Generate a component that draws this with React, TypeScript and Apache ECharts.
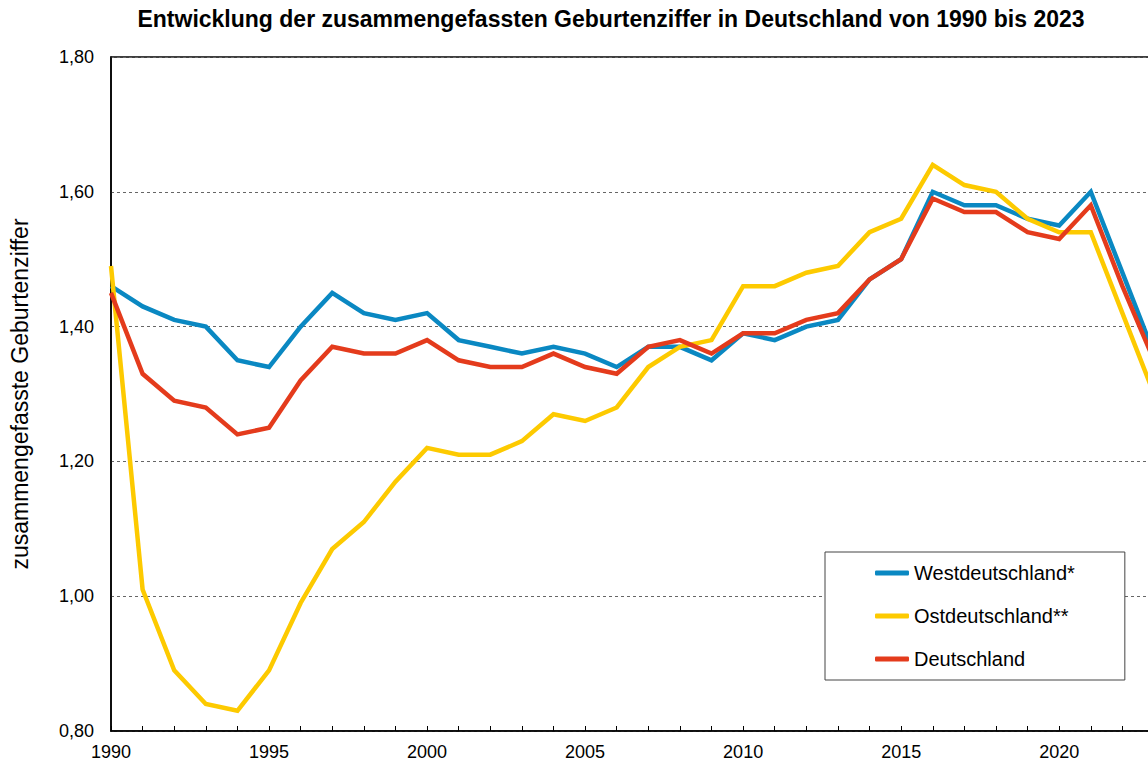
import React, { useEffect, useRef } from "react";
import * as echarts from "echarts";

const years = [
  "1990", "1991", "1992", "1993", "1994", "1995", "1996", "1997", "1998", "1999",
  "2000", "2001", "2002", "2003", "2004", "2005", "2006", "2007", "2008", "2009",
  "2010", "2011", "2012", "2013", "2014", "2015", "2016", "2017", "2018", "2019",
  "2020", "2021", "2022", "2023",
];

const west = [
  1.46, 1.43, 1.41, 1.40, 1.35, 1.34, 1.40, 1.45, 1.42, 1.41,
  1.42, 1.38, 1.37, 1.36, 1.37, 1.36, 1.34, 1.37, 1.37, 1.35,
  1.39, 1.38, 1.40, 1.41, 1.47, 1.50, 1.60, 1.58, 1.58, 1.56,
  1.55, 1.60, 1.48, 1.36,
];

const ost = [
  1.49, 1.01, 0.89, 0.84, 0.83, 0.89, 0.99, 1.07, 1.11, 1.17,
  1.22, 1.21, 1.21, 1.23, 1.27, 1.26, 1.28, 1.34, 1.37, 1.38,
  1.46, 1.46, 1.48, 1.49, 1.54, 1.56, 1.64, 1.61, 1.60, 1.56,
  1.54, 1.54, 1.42, 1.30,
];

const deutschland = [
  1.45, 1.33, 1.29, 1.28, 1.24, 1.25, 1.32, 1.37, 1.36, 1.36,
  1.38, 1.35, 1.34, 1.34, 1.36, 1.34, 1.33, 1.37, 1.38, 1.36,
  1.39, 1.39, 1.41, 1.42, 1.47, 1.50, 1.59, 1.57, 1.57, 1.54,
  1.53, 1.58, 1.46, 1.35,
];

const seriesNames = ["Westdeutschland*", "Ostdeutschland**", "Deutschland"];
const seriesColors = ["#0a88c2", "#fdca00", "#e43b1c"];
const titleText = "Entwicklung der zusammengefassten Geburtenziffer in Deutschland von 1990 bis 2023";
const yAxisTitle = "zusammengefasste Geburtenziffer";

const FONT = "'Liberation Sans', Arial, sans-serif";

export default function App() {
  const ref = useRef<HTMLDivElement>(null);

  useEffect(() => {
    if (!ref.current) return;
    const chart = echarts.init(ref.current, null, { renderer: "svg" });
    const data = [west, ost, deutschland];
    chart.setOption({
      animation: false,
      backgroundColor: "#ffffff",
      textStyle: { fontFamily: FONT },
      graphic: [
        {
          type: "text",
          x: 611,
          y: 19,
          style: {
            text: titleText,
            fontFamily: FONT,
            fontWeight: "bold",
            fontSize: 23,
            fill: "#000",
            textAlign: "center",
            textVerticalAlign: "middle",
          },
        },
      ],
      grid: {
        left: 108,
        top: 57,
        width: 1046,
        height: 674,
        show: true,
        borderColor: "#000",
        borderWidth: 1.5,
        backgroundColor: "transparent",
      },
      xAxis: {
        type: "category",
        data: years,
        boundaryGap: false,
        axisLine: { show: true, lineStyle: { color: "#000", width: 1.5 } },
        axisTick: {
          show: true,
          inside: true,
          length: 5,
          interval: 0,
          lineStyle: { color: "#000", width: 1 },
        },
        axisLabel: {
          interval: (i: number) => i % 5 === 0,
          color: "#000",
          fontSize: 18,
          fontFamily: FONT,
          margin: 12,
        },
        splitLine: { show: false },
      },
      yAxis: {
        type: "value",
        min: 0.8,
        max: 1.8,
        interval: 0.2,
        name: yAxisTitle,
        nameLocation: "middle",
        nameRotate: 90,
        nameGap: 80,
        nameTextStyle: { color: "#000", fontSize: 23, fontFamily: FONT },
        axisLine: { show: true, lineStyle: { color: "#000", width: 1.5 } },
        axisTick: { show: false },
        axisLabel: {
          color: "#000",
          fontSize: 18,
          fontFamily: FONT,
          margin: 17,
          formatter: (v: number) => v.toFixed(2).replace(".", ","),
        },
        splitLine: {
          show: true,
          lineStyle: { color: "#666", width: 1, type: [3, 3] },
        },
      },
      legend: {
        orient: "vertical",
        left: 825,
        top: 552,
        padding: [10, 50, 10, 50],
        backgroundColor: "#fff",
        borderColor: "#444",
        borderWidth: 1,
        itemWidth: 34,
        itemHeight: 5,
        itemGap: 21,
        icon: "roundRect",
        textStyle: { color: "#000", fontSize: 20, fontFamily: FONT, lineHeight: 22 },
        data: seriesNames,
      },
      series: seriesNames.map((name, i) => ({
        name,
        type: "line",
        data: data[i],
        symbol: "none",
        color: seriesColors[i],
        lineStyle: { color: seriesColors[i], width: 4.5, join: "miter" },
      })),
    });
    return () => chart.dispose();
  }, []);

  return (
    <div
      style={{
        position: "absolute",
        left: 0,
        top: 0,
        width: 1148,
        height: 765,
        overflow: "hidden",
        background: "#fff",
      }}
    >
      <div ref={ref} style={{ width: 1200, height: 765 }} />
    </div>
  );
}
